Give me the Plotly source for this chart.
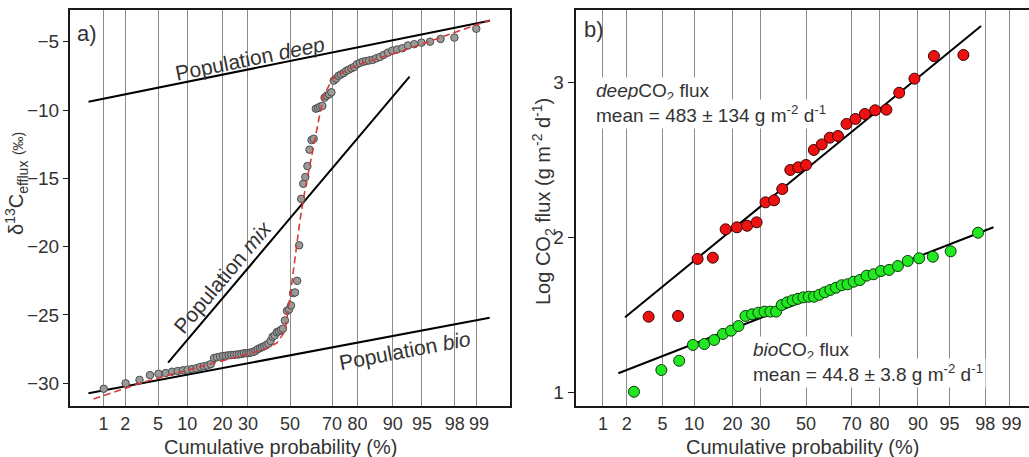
from statistics import NormalDist
import plotly.graph_objects as go

W, H = 1029, 457
_nd = NormalDist()


def zq(pct):
    """Normal quantile of a cumulative probability given in percent."""
    return _nd.inv_cdf(pct / 100.0)


def plotting_positions(n):
    """Weibull plotting positions i/(n+1), in percent, for n ranked values."""
    return [100.0 * i / (n + 1) for i in range(1, n + 1)]


def px_x(v):
    return v / W


def px_y(v):
    return 1 - v / H


# ---------------- probability axis ----------------
prob_ticks = [1, 2, 5, 10, 20, 30, 50, 70, 80, 90, 95, 98, 99]
prob_labels = [str(p) for p in prob_ticks[:-1]] + ["&nbsp;99"]

# ---------------- panel a: d13C of soil CO2 efflux (per mil), sorted ----------------
d13c_values = [
    -30.4, -30.0, -29.75, -29.4, -29.3, -29.25, -29.15, -29.1, -29.05, -29.0,
    -28.95, -28.9, -28.8, -28.75, -28.7, -28.6,
    -28.15, -28.1, -28.05, -28.0, -27.98, -27.95, -27.93, -27.92, -27.9, -27.88,
    -27.85, -27.8, -27.8, -27.78, -27.75, -27.7, -27.63,
    -27.5, -27.43, -27.35, -27.28, -27.2, -27.1, -26.9, -26.6, -26.5, -26.26,
    -26.2, -26.1, -26.0,
    -25.4, -24.7, -24.6, -24.3, -23.4, -23.35, -22.5, -19.9, -16.5, -15.4,
    -14.9, -14.1, -12.9, -12.2, -12.1,
    -9.9, -9.85, -9.75, -9.7, -9.1, -8.95, -8.85, -8.7, -7.85, -7.7, -7.5,
    -7.4, -7.3,
    -7.15, -7.05, -6.95, -6.85, -6.65, -6.55, -6.47, -6.42, -6.37, -6.33,
    -6.22, -6.12, -5.97, -5.80, -5.65, -5.57, -5.48, -5.28, -5.18, -5.07,
    -5.0, -4.80, -4.70, -4.05,
]

# three-population mixture fit (dashed curve)
mixfit_prob = [0.714, 3.07, 7.28, 14.94, 26.66, 36.96, 43.41, 47.53, 50.0,
               52.47, 54.97, 57.42, 59.83, 62.25, 64.28, 66.13, 69.85, 71.97,
               77.28, 83.05, 91.50, 96.30, 99.37]
mixfit_d13c = [-31.15, -29.99, -29.31, -28.65, -28.04, -27.55, -27.06, -26.2,
               -23.65, -20.73, -18.04, -15.85, -13.9, -12.19, -10.49, -9.02,
               -7.80, -7.51, -6.95, -6.46, -5.73, -4.88, -3.41]

# single-population lines
pop_deep_prob, pop_deep_d13c = [0.60, 99.36], [-9.39, -3.46]
pop_bio_prob, pop_bio_d13c = [0.60, 99.36], [-30.73, -25.2]
pop_mix_prob, pop_mix_d13c = [6.43, 93.2], [-28.49, -7.56]

# ---------------- panel b: log CO2 flux, sorted ----------------
deep_logflux = [1.490, 1.495, 1.863, 1.871, 2.054, 2.067, 2.077, 2.099, 2.228,
                2.241, 2.314, 2.437, 2.454, 2.469, 2.566, 2.602, 2.645, 2.656,
                2.734, 2.766, 2.798, 2.822, 2.826, 2.935, 3.026, 3.172, 3.179]
bio_logflux = [1.006, 1.146, 1.206, 1.308, 1.314, 1.340, 1.379, 1.400, 1.430,
               1.495, 1.506, 1.516, 1.523, 1.523, 1.523, 1.566, 1.583, 1.596,
               1.606, 1.615, 1.619, 1.619, 1.632, 1.648, 1.663, 1.677, 1.693,
               1.699, 1.716, 1.727, 1.755, 1.764, 1.785, 1.792, 1.817, 1.850,
               1.867, 1.877, 1.912, 2.032]
deep_fit_prob, deep_fit_log = [1.91, 97.75], [1.486, 3.366]
bio_fit_prob, bio_fit_log = [1.58, 98.41], [1.125, 2.067]

FONT = "Liberation Sans, Arial, sans-serif"
TXT = "#333333"
AX = "#1a1a1a"
GRID = "#8c8c8c"

fig = go.Figure()

# ---- panel a traces ----
for prob, vals in [(pop_deep_prob, pop_deep_d13c),
                   (pop_bio_prob, pop_bio_d13c),
                   (pop_mix_prob, pop_mix_d13c)]:
    fig.add_trace(go.Scatter(x=[zq(p) for p in prob], y=vals, mode="lines",
                             line=dict(color="black", width=2),
                             xaxis="x", yaxis="y", hoverinfo="skip"))

fig.add_trace(go.Scatter(
    x=[zq(p) for p in plotting_positions(len(d13c_values))], y=d13c_values,
    mode="markers",
    marker=dict(size=7.5, color="#9a9a9a", line=dict(color="#4d4d4d", width=1)),
    xaxis="x", yaxis="y"))

fig.add_trace(go.Scatter(x=[zq(p) for p in mixfit_prob], y=mixfit_d13c,
                         mode="lines", line=dict(color="#d63a3a", width=1.6, dash="7px,4px"),
                         xaxis="x", yaxis="y", hoverinfo="skip"))

# ---- panel b traces ----
fig.add_trace(go.Scatter(x=[zq(p) for p in deep_fit_prob], y=deep_fit_log,
                         mode="lines", line=dict(color="black", width=2),
                         xaxis="x2", yaxis="y2", hoverinfo="skip"))
fig.add_trace(go.Scatter(x=[zq(p) for p in bio_fit_prob], y=bio_fit_log,
                         mode="lines", line=dict(color="black", width=2),
                         xaxis="x2", yaxis="y2", hoverinfo="skip"))
fig.add_trace(go.Scatter(
    x=[zq(p) for p in plotting_positions(len(deep_logflux))], y=deep_logflux,
    mode="markers",
    marker=dict(size=11, color="#ee1111", line=dict(color="#3a0000", width=1)),
    xaxis="x2", yaxis="y2"))
fig.add_trace(go.Scatter(
    x=[zq(p) for p in plotting_positions(len(bio_logflux))], y=bio_logflux,
    mode="markers",
    marker=dict(size=11, color="#22e822", line=dict(color="#0a3a0a", width=1)),
    xaxis="x2", yaxis="y2"))

tickz = [zq(p) for p in prob_ticks]
ydom = [px_y(406), px_y(10)]

xcommon = dict(tickmode="array", tickvals=tickz, ticktext=prob_labels,
               tickangle=0,
               showgrid=True, gridcolor=GRID, gridwidth=1, zeroline=False,
               showline=True, linecolor=AX, linewidth=2, mirror=True,
               ticks="",
               tickfont=dict(size=18, color=TXT, family=FONT))
ycommon = dict(showgrid=False, zeroline=False, showline=True, linecolor=AX,
               linewidth=2, ticks="outside", tickcolor=AX, tickwidth=1,
               tickfont=dict(size=19, color=TXT, family=FONT))

annotations = []


def add_text(text, x, y, size, angle=0, xanchor="center", bg=None):
    a = dict(text=text, x=px_x(x), y=px_y(y), xref="paper", yref="paper",
             showarrow=False, textangle=angle, xanchor=xanchor, yanchor="middle",
             font=dict(size=size, color=TXT, family=FONT))
    if bg:
        a.update(bgcolor=bg, borderpad=2)
    annotations.append(a)


add_text("a)", 75, 33, 22, xanchor="left")
add_text("b)", 582, 29, 22, xanchor="left")
add_text("Population <i>deep</i>", 250, 58.5, 21, angle=-11.4)
add_text("Population <i>mix</i>", 222, 277, 21, angle=-50)
add_text("Population <i>bio</i>", 404.5, 350, 21, angle=-10.7)
add_text("<i>deep</i>CO<sub>2</sub> flux", 593, 92, 19, xanchor="left", bg="white")
add_text("mean = 483 ± 134 g m<sup>-2</sup> d<sup>-1</sup>", 593, 114, 19,
         xanchor="left", bg="white")
add_text("<i>bio</i>CO<sub>2</sub> flux", 750, 351, 19, xanchor="left", bg="white")
add_text("mean = 44.8 ± 3.8 g m<sup>-2</sup> d<sup>-1</sup>", 750, 373, 19,
         xanchor="left", bg="white")
add_text("Cumulative probability (%)", 280, 447, 20)
add_text("Cumulative probability (%)", 802, 447, 20)
add_text('δ<sup>13</sup>C<sub>efflux</sub> <span style="font-size:14px">(‰)</span>',
         16, 184, 20, angle=-90)
add_text("Log CO<sub>2</sub> flux (g m<sup>-2</sup> d<sup>-1</sup>)", 543, 202, 20,
         angle=-90)

fig.update_layout(
    width=W, height=H, margin=dict(l=0, r=0, t=0, b=0),
    paper_bgcolor="white", plot_bgcolor="white", showlegend=False,
    font=dict(family=FONT, color=TXT),
    xaxis=dict(xcommon, domain=[px_x(70), px_x(510)], range=[-2.743, 2.743], anchor="y"),
    yaxis=dict(ycommon, domain=ydom, range=[-31.66, -2.68], mirror=True,
               tickvals=[-30, -25, -20, -15, -10, -5], ticklen=5, anchor="x"),
    xaxis2=dict(xcommon, domain=[px_x(575.7), 1.0], range=[-2.638, 2.554], anchor="y2"),
    yaxis2=dict(ycommon, domain=ydom, range=[0.914, 3.469], mirror=False,
                tickvals=[1, 2, 3], ticklen=6, anchor="x2"),
    annotations=annotations,
)

fig.write_html("out.html")
